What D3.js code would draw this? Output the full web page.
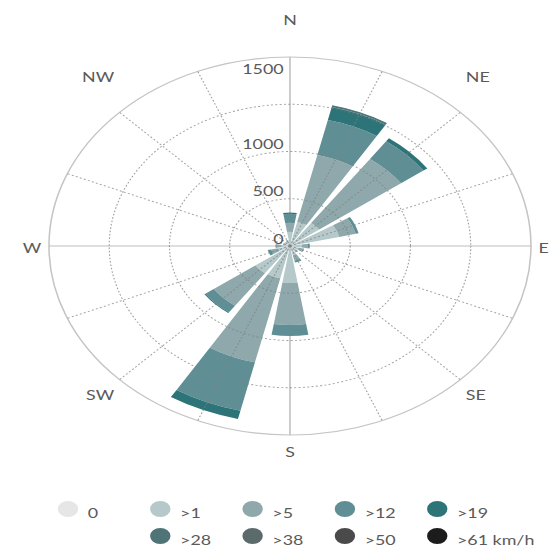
<!DOCTYPE html>
<html>
<head>
<meta charset="utf-8">
<script src="https://cdn.jsdelivr.net/npm/d3@7"></script>
<style>
  html, body { margin: 0; padding: 0; background: #fff; }
  text { font-family: Lato, "Open Sans", sans-serif; fill: #5a5a5a; }
</style>
</head>
<body>
<div id="chart"></div>
<script>
"use strict";

// directions, clockwise from north
var directions = ["N", "NNE", "NE", "ENE", "E", "ESE", "SE", "SSE",
                  "S", "SSW", "SW", "WSW", "W", "WNW", "NW", "NNW"];

// speed classes (stacked from the centre outwards)
var speedClasses = ["0", ">1", ">5", ">12", ">19", ">28", ">38", ">50", ">61 km/h"];
var classColors  = ["#e6e6e6", "#b5c8ca", "#8ea8ab", "#5f8f94", "#2d7479",
                    "#4f7377", "#5b6a6b", "#4a4a4a", "#1c1c1c"];

// counts per direction for each class
var calm = [10, 10, 10, 10, 10, 10, 10, 10, 10, 10, 10, 10, 10, 10, 10, 10];
var s1   = [140, 250, 290, 410, 90, 70, 50, 90, 382, 340, 345, 90, 60, 30, 25, 35];
var s5   = [95, 730, 836, 140, 50, 30, 20, 60, 444, 915, 425, 60, 40, 20, 15, 20];
var s12  = [95, 380, 229, 25, 15, 10, 0, 20, 116, 525, 85, 30, 10, 0, 0, 0];
var s19  = [15, 140, 40, 0, 0, 0, 0, 0, 0, 90, 10, 0, 0, 0, 0, 0];
var s28  = [0, 20, 0, 0, 0, 0, 0, 0, 0, 0, 0, 0, 0, 0, 0, 0];
var s38  = [0, 0, 0, 0, 0, 0, 0, 0, 0, 0, 0, 0, 0, 0, 0, 0];
var s50  = [0, 0, 0, 0, 0, 0, 0, 0, 0, 0, 0, 0, 0, 0, 0, 0];
var s61  = [0, 0, 0, 0, 0, 0, 0, 0, 0, 0, 0, 0, 0, 0, 0, 0];

var series = [calm, s1, s5, s12, s19, s28, s38, s50, s61];

var radialTicks = [0, 500, 1000, 1500];
var radialMax = 2000;
var compassLabels = ["N", "NE", "E", "SE", "S", "SW", "W", "NW"];

var width = 553, height = 549;
var stretch = 241 / 189;          // the chart is drawn wider than tall
var cx = 227.4, cy = 246, R = 189;

var svg = d3.select("#chart").append("svg")
    .attr("width", width)
    .attr("height", height);

var root = svg.append("g")
    .attr("transform", "scale(" + stretch + ",1)");

var plot = root.append("g")
    .attr("transform", "translate(" + cx + "," + cy + ")");

var r = d3.scaleLinear().domain([0, radialMax]).range([0, R]);

var angle = d3.scaleBand()
    .domain(directions)
    .range([0, 2 * Math.PI]);

function dirAngle(d) { return angle(d); }   // centre of each bar
var halfWidth = (angle.step() * 0.82) / 2;

// ---- solid axis lines + outer ring (under the bars)
var grid = plot.append("g").attr("class", "grid");

grid.append("circle")
    .attr("r", r(radialMax))
    .attr("fill", "none")
    .attr("stroke", "#c4c4c4")
    .attr("stroke-width", 1.2);

grid.selectAll("line.axis")
    .data(directions.filter(function(d, i) { return i % 4 === 0; }))
    .enter().append("line")
    .attr("class", "axis")
    .attr("x1", 0).attr("y1", 0)
    .attr("x2", function(d) { return Math.sin(dirAngle(d)) * r(radialMax); })
    .attr("y2", function(d) { return -Math.cos(dirAngle(d)) * r(radialMax); })
    .attr("stroke", "#bdbdbd")
    .attr("stroke-width", 1.2);

// ---- stacked bars
var stackData = [];
directions.forEach(function(dir, i) {
  var cum = 0;
  series.forEach(function(s, k) {
    if (s[i] > 0) {
      stackData.push({dir: dir, cls: k, y0: cum, y1: cum + s[i]});
    }
    cum += s[i];
  });
});

var arc = d3.arc()
    .innerRadius(function(d) { return r(d.y0); })
    .outerRadius(function(d) { return r(d.y1); })
    .startAngle(function(d) { return dirAngle(d.dir) - halfWidth; })
    .endAngle(function(d) { return dirAngle(d.dir) + halfWidth; });

plot.append("g").attr("class", "bars")
    .selectAll("path")
    .data(stackData)
    .enter().append("path")
    .attr("d", arc)
    .attr("fill", function(d) { return classColors[d.cls]; });

// ---- dotted grid (drawn over the bars, faint)
var dotted = plot.append("g").attr("class", "dotted");

dotted.selectAll("circle")
    .data(radialTicks.filter(function(t) { return t > 0; }))
    .enter().append("circle")
    .attr("r", function(d) { return r(d); })
    .attr("fill", "none")
    .attr("stroke", "#808080")
    .attr("stroke-opacity", 0.75)
    .attr("stroke-width", 0.9)
    .attr("stroke-dasharray", "1.6,1.8");

dotted.selectAll("line")
    .data(directions.filter(function(d, i) { return i % 4 !== 0; }))
    .enter().append("line")
    .attr("x1", 0).attr("y1", 0)
    .attr("x2", function(d) { return Math.sin(dirAngle(d)) * r(radialMax); })
    .attr("y2", function(d) { return -Math.cos(dirAngle(d)) * r(radialMax); })
    .attr("stroke", "#808080")
    .attr("stroke-opacity", 0.75)
    .attr("stroke-width", 0.9)
    .attr("stroke-dasharray", "1.6,1.8");

// ---- radial value labels
plot.append("g").attr("class", "ylabels")
    .selectAll("text")
    .data(radialTicks)
    .enter().append("text")
    .attr("x", -5)
    .attr("y", function(d, i) {
      // last label sits just inside the outer ring
      if (i === radialTicks.length - 1) return -r(radialMax) + 11;
      return -r(d) - 8;
    })
    .attr("text-anchor", "end")
    .attr("dominant-baseline", "central")
    .style("font-size", "14px")
    .text(function(d) { return d; });

// ---- compass labels
var lr = R + 6;
plot.append("g").attr("class", "compass")
    .selectAll("text")
    .data(compassLabels)
    .enter().append("text")
    .attr("x", function(d) { return Math.sin(dirAngle(d)) * lr; })
    .attr("y", function(d) {
      var c = Math.cos(dirAngle(d));
      var dy = c > 0.1 ? -32 : (c < -0.1 ? 10 : 1);
      return -c * lr + dy;
    })
    .attr("text-anchor", function(d) {
      var s = Math.sin(dirAngle(d));
      return s > 0.1 ? "start" : (s < -0.1 ? "end" : "middle");
    })
    .attr("dominant-baseline", "central")
    .style("font-size", "14px")
    .text(function(d) { return d; });

// ---- legend
var legendItems = speedClasses.map(function(name, k) {
  return {name: name, color: classColors[k],
          row: k < 5 ? 0 : 1,
          col: k < 5 ? k : k - 4};
});

var legend = root.append("g").attr("class", "legend");
var legendItem = legend.selectAll("g")
    .data(legendItems)
    .enter().append("g")
    .attr("transform", function(d) {
      return "translate(" + (53.3 + d.col * 72.4) + "," + (509 + d.row * 27) + ")";
    });

legendItem.append("circle")
    .attr("r", 8)
    .attr("fill", function(d) { return d.color; });

legendItem.append("text")
    .attr("x", 15.5)
    .attr("y", 3)
    .attr("dominant-baseline", "central")
    .style("font-size", "14px")
    .text(function(d) { return d.name; });
</script>
</body>
</html>
